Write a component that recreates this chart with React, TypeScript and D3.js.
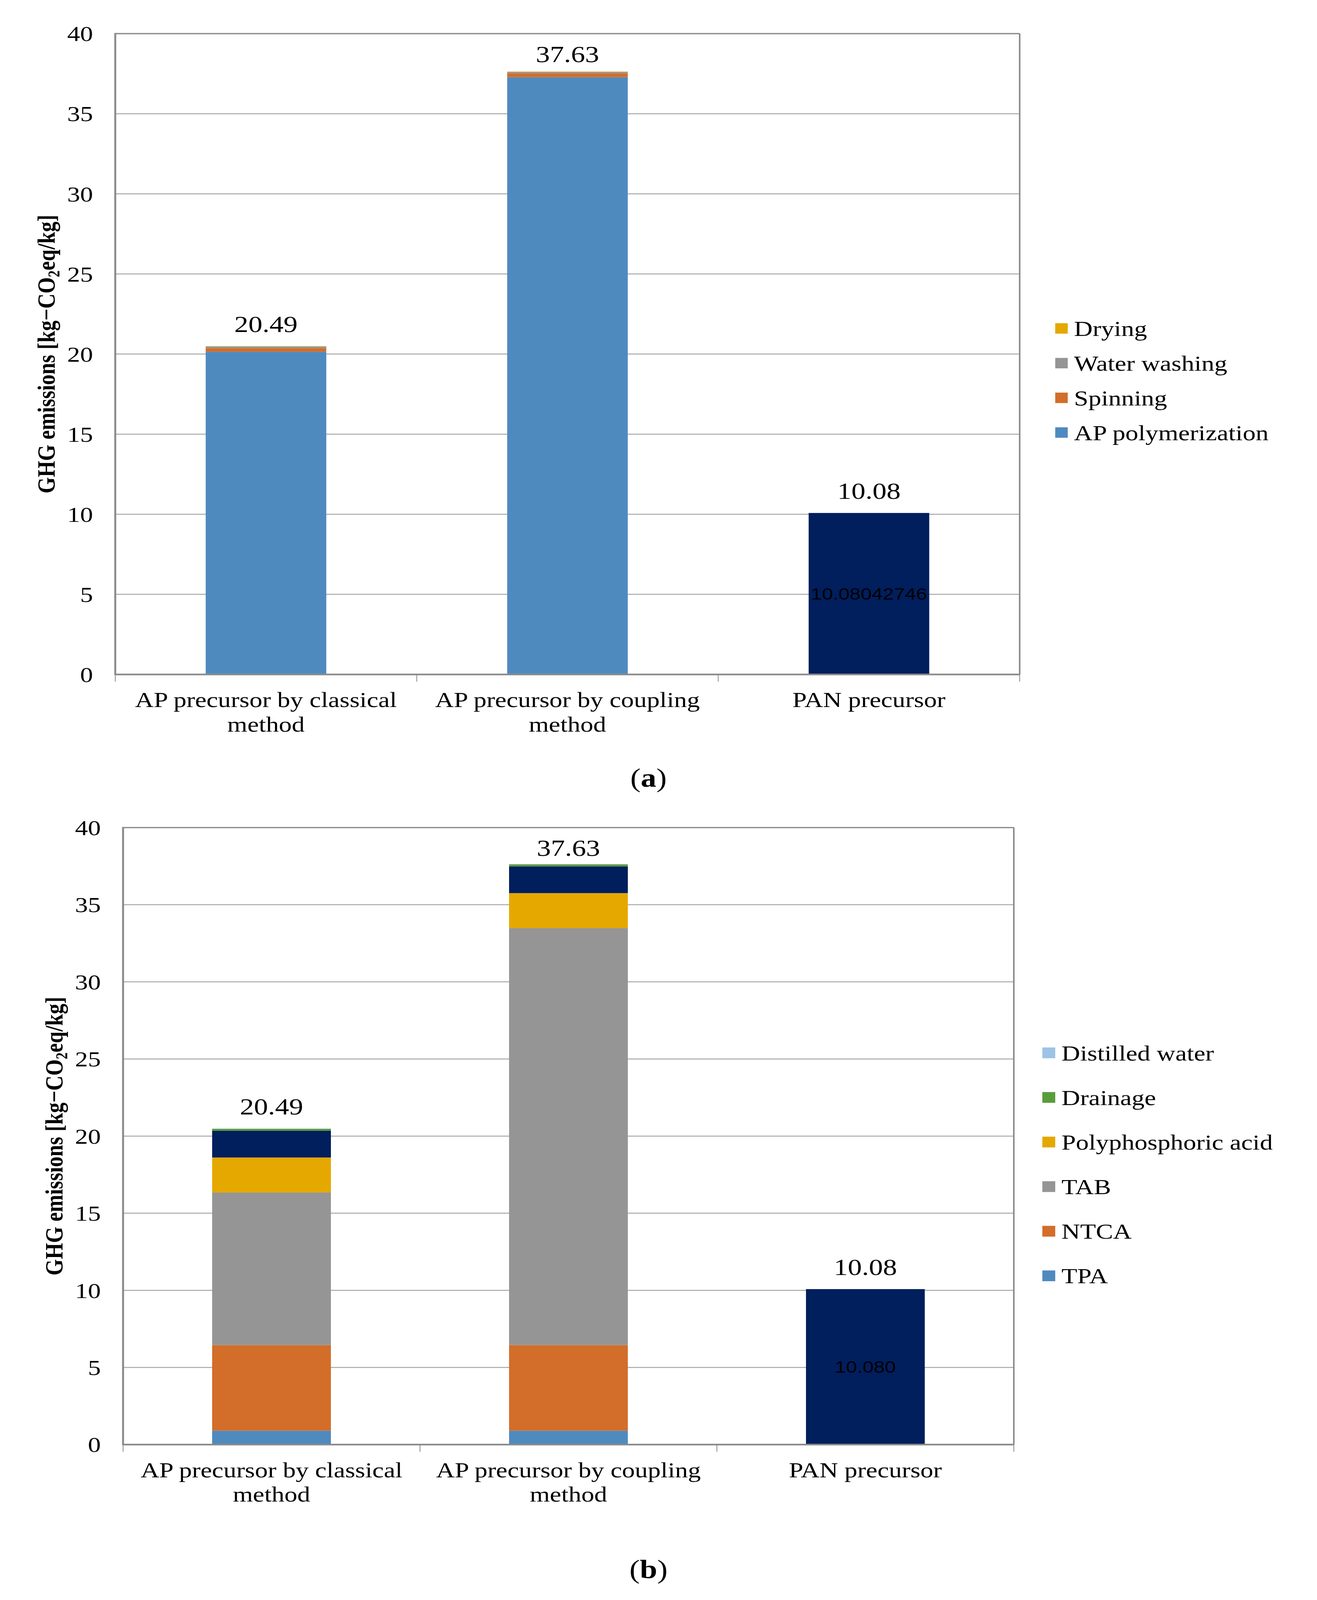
import React from "react";
import * as d3 from "d3";

// ---------- shared data ----------
const categories = [
  "AP precursor by classical method",
  "AP precursor by coupling method",
  "PAN precursor",
];
const categoryLines = [
  ["AP precursor by classical", "method"],
  ["AP precursor by coupling", "method"],
  ["PAN precursor"],
];
const yTicks = [0, 5, 10, 15, 20, 25, 30, 35, 40];

// ---------- chart (a) data ----------
const apPolymerization = [20.15, 37.28, 0];
const spinning = [0.22, 0.25, 0];
const waterWashing = [0.1, 0.08, 0];
const drying = [0.02, 0.02, 0];
const panPrecursorA = [0, 0, 10.08042746];
const innerLabelsA = ["", "", "10.08042746"];

// ---------- chart (b) data ----------
const tpa = [0.9, 0.9, 0];
const ntca = [5.55, 5.55, 0];
const tab = [9.89, 27.03, 0];
const polyphosphoricAcid = [2.27, 2.27, 0];
const panPrecursorB = [1.73, 1.73, 10.08042746];
const drainage = [0.13, 0.13, 0];
const distilledWater = [0.02, 0.02, 0];
const innerLabelsB = ["", "", "10.080"];

const SERIF = "'Liberation Serif', 'Times New Roman', serif";
const SANS = "'Liberation Sans', Arial, sans-serif";

type Series = { name: string; values: number[]; color: string; legend: boolean };

const seriesA: Series[] = [
  { name: "AP polymerization", values: apPolymerization, color: "#4f8abf", legend: true },
  { name: "Spinning", values: spinning, color: "#d36d2a", legend: true },
  { name: "Water washing", values: waterWashing, color: "#959595", legend: true },
  { name: "Drying", values: drying, color: "#e5a800", legend: true },
  { name: "PAN precursor", values: panPrecursorA, color: "#011e5d", legend: false },
];

const seriesB: Series[] = [
  { name: "TPA", values: tpa, color: "#4f8abf", legend: true },
  { name: "NTCA", values: ntca, color: "#d36d2a", legend: true },
  { name: "TAB", values: tab, color: "#959595", legend: true },
  { name: "Polyphosphoric acid", values: polyphosphoricAcid, color: "#e5a800", legend: true },
  { name: "PAN precursor", values: panPrecursorB, color: "#011e5d", legend: false },
  { name: "Drainage", values: drainage, color: "#5a9c3b", legend: true },
  { name: "Distilled water", values: distilledWater, color: "#9dc3e6", legend: true },
];

type Layout = {
  left: number;
  right: number;
  top: number;
  bottom: number;
  legendSwatchX: number;
  legendTextX: number;
  legendFirstY: number;
  legendStep: number;
  legendSize: number;
  caption: string;
  captionY: number;
};

function Panel({
  series,
  layout,
  innerLabels,
}: {
  series: Series[];
  layout: Layout;
  innerLabels: string[];
}) {
  const { left, right, top, bottom } = layout;
  const y = d3.scaleLinear().domain([0, 40]).range([bottom, top]);
  const x = d3
    .scaleBand<string>()
    .domain(categories)
    .range([left, right])
    .paddingInner(0.6)
    .paddingOuter(0.3);
  const step = x.step();

  const rows = categories.map((c, i) => {
    const r: any = { cat: c };
    series.forEach((s) => (r[s.name] = s.values[i]));
    return r;
  });
  const stacked = d3.stack<any>().keys(series.map((s) => s.name))(rows);
  const totals = categories.map((_, i) => d3.sum(series, (s) => s.values[i]));

  const legendItems = series.filter((s) => s.legend).slice().reverse();
  const innerSeriesIdx = series.findIndex((s) => s.name === "PAN precursor");

  return (
    <g>
      {yTicks.map((t) => (
        <line key={"g" + t} x1={left} x2={right} y1={y(t)} y2={y(t)} stroke="#a8a8a8" strokeWidth={3} />
      ))}
      <line x1={left} x2={right} y1={top} y2={top} stroke="#8c8c8c" strokeWidth={4} />
      <line x1={right} x2={right} y1={top} y2={bottom} stroke="#8c8c8c" strokeWidth={4} />

      {stacked.map((layer, si) => (
        <g key={layer.key} fill={series[si].color}>
          {layer.map((d, ci) =>
            d[1] - d[0] > 0 ? (
              <rect
                key={ci}
                x={x(categories[ci])!}
                width={x.bandwidth()}
                y={y(d[1])}
                height={y(d[0]) - y(d[1])}
              />
            ) : null
          )}
        </g>
      ))}

      {innerSeriesIdx >= 0 &&
        stacked[innerSeriesIdx].map((d, ci) =>
          innerLabels[ci] ? (
            <text
              key={"in" + ci}
              x={x(categories[ci])! + x.bandwidth() / 2}
              y={(y(d[0]) + y(d[1])) / 2}
              dy="0.36em"
              textAnchor="middle"
              fontFamily={SANS}
              fontSize={51}
              fill="#000"
            >
              {innerLabels[ci]}
            </text>
          ) : null
        )}

      {totals.map((t, ci) => (
        <text
          key={"t" + ci}
          x={x(categories[ci])! + x.bandwidth() / 2}
          y={Math.max(y(t) - 43, top + 87)}
          textAnchor="middle"
          fontFamily={SERIF}
          fontSize={72}
          fill="#000"
        >
          {t.toFixed(2)}
        </text>
      ))}

      <line x1={left} x2={left} y1={top - 2} y2={bottom + 2} stroke="#8a8a8a" strokeWidth={5} />
      <line x1={left} x2={right} y1={bottom} y2={bottom} stroke="#8a8a8a" strokeWidth={5} />
      {d3.range(categories.length + 1).map((i) => (
        <line
          key={"ct" + i}
          x1={left + i * step}
          x2={left + i * step}
          y1={bottom}
          y2={bottom + 22}
          stroke="#8a8a8a"
          strokeWidth={2}
        />
      ))}

      {yTicks.map((t) => (
        <text
          key={"yl" + t}
          x={left - 57}
          y={y(t)}
          dy="0.35em"
          textAnchor="end"
          fontFamily={SERIF}
          fontSize={66}
          fill="#000"
        >
          {t}
        </text>
      ))}

      <text
        transform={`translate(${left - 177},${(top + bottom) / 2}) rotate(-90)`}
        dy="0.35em"
        textAnchor="middle"
        fontFamily={SERIF}
        fontSize={64}
        fontWeight="bold"
        fill="#000"
      >
        GHG emissions [kg−CO
        <tspan fontSize={42} dy={12}>
          2
        </tspan>
        <tspan dy={-12}>eq/kg]</tspan>
      </text>

      {categories.map((c, ci) => (
        <text key={"xl" + ci} textAnchor="middle" fontFamily={SERIF} fontSize={66} fill="#000">
          {categoryLines[ci].map((ln, li) => (
            <tspan key={li} x={x(c)! + x.bandwidth() / 2} y={bottom + 100 + li * 75}>
              {ln}
            </tspan>
          ))}
        </text>
      ))}

      {legendItems.map((s, i) => {
        const cy = layout.legendFirstY + i * layout.legendStep;
        return (
          <g key={"lg" + s.name}>
            <rect
              x={layout.legendSwatchX}
              y={cy - layout.legendSize / 2}
              width={layout.legendSize}
              height={layout.legendSize}
              fill={s.color}
            />
            <text x={layout.legendTextX} y={cy} dy="0.35em" fontFamily={SERIF} fontSize={66} fill="#000">
              {s.name}
            </text>
          </g>
        );
      })}

      <text x={1660} y={layout.captionY} textAnchor="middle" fontFamily={SERIF} fontSize={80} fill="#000">
        (<tspan fontWeight="bold">{layout.caption}</tspan>)
      </text>
    </g>
  );
}

const layoutA: Layout = {
  left: 295,
  right: 2610,
  top: 103,
  bottom: 2066,
  legendSwatchX: 2701,
  legendTextX: 2749,
  legendFirstY: 1006,
  legendStep: 106.3,
  legendSize: 32,
  caption: "a",
  captionY: 2410,
};

const layoutB: Layout = {
  left: 315,
  right: 2595,
  top: 2535,
  bottom: 4425,
  legendSwatchX: 2668,
  legendTextX: 2717,
  legendFirstY: 3225,
  legendStep: 136.6,
  legendSize: 33,
  caption: "b",
  captionY: 4834,
};

const FULL_W = 3371;
const FULL_H = 4901;

export default function App() {
  // The browser viewport may be shorter than the figure; fit the whole figure into it.
  const vw = typeof window !== "undefined" && window.innerWidth ? Math.min(FULL_W, window.innerWidth) : FULL_W;
  const vh = typeof window !== "undefined" && window.innerHeight ? Math.min(FULL_H, window.innerHeight) : FULL_H;
  return (
    <svg
      width={vw}
      height={vh}
      viewBox={`0 0 ${FULL_W} ${FULL_H}`}
      preserveAspectRatio="none"
      style={{ position: "absolute", left: 0, top: 0, background: "#fff" }}
    >
      <rect width={FULL_W} height={FULL_H} fill="#fff" />
      <Panel series={seriesA} layout={layoutA} innerLabels={innerLabelsA} />
      <Panel series={seriesB} layout={layoutB} innerLabels={innerLabelsB} />
    </svg>
  );
}
